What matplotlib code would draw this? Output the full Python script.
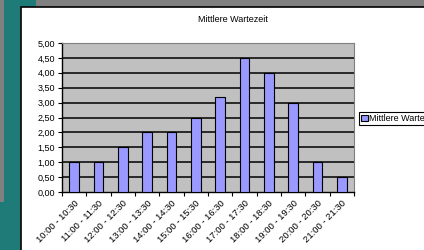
import matplotlib
matplotlib.use("Agg")
import matplotlib.pyplot as plt
import numpy as np
from matplotlib.patches import Rectangle

plt.rcParams["font.family"] = ["Liberation Sans", "DejaVu Sans"]

TITLE = "Mittlere Wartezeit"
time_slots = ["10:00 - 10:30", "11:00 - 11:30", "12:00 - 12:30", "13:00 - 13:30",
              "14:00 - 14:30", "15:00 - 15:30", "16:00 - 16:30", "17:00 - 17:30",
              "18:00 - 18:30", "19:00 - 19:30", "20:00 - 20:30", "21:00 - 21:30"]
wait_times = [1.0, 1.0, 1.5, 2.0, 2.0, 2.5, 3.2, 4.5, 4.0, 3.0, 1.0, 0.5]
y_ticks = [0, 0.5, 1, 1.5, 2, 2.5, 3, 3.5, 4, 4.5, 5]

W, H = 424, 250
fig = plt.figure(figsize=(W / 100, H / 100), dpi=100, facecolor="#808080")

# slide background drawn in pixel coordinates
bg = fig.add_axes([0, 0, 1, 1])
bg.set_xlim(0, W)
bg.set_ylim(H, 0)
bg.axis("off")
teal = "#1e7b78"
bg.add_patch(Rectangle((4, 0), 32, 7, color=teal, lw=0))
bg.add_patch(Rectangle((4, 0), 16, 202, color=teal, lw=0))
bg.add_patch(Rectangle((0, 202), 20, 48, color=teal, lw=0))
bg.add_patch(Rectangle((20.5, 6.5), 420, 260, facecolor="white", edgecolor="black", lw=1.2))

# chart
left, right, top, bottom = 62, 354, 43, 192
ax = fig.add_axes([left / W, 1 - bottom / H, (right - left) / W, (bottom - top) / H])
ax.set_facecolor("#c0c0c0")

x = np.arange(len(time_slots))
ax.bar(x, wait_times, width=0.41, color="#9999ff", edgecolor="black", lw=0.8,
       label=TITLE, zorder=3)

ax.set_xlim(-0.5, len(time_slots) - 0.5)
ax.set_ylim(0, 5)
ax.set_yticks(y_ticks)
ax.set_yticklabels(["{:.2f}".format(v).replace(".", ",") for v in y_ticks], fontsize=6.5)
for v in y_ticks[1:]:
    ax.axhline(v, color="black", lw=1.1, zorder=1)

ax.set_xticks(np.arange(-0.5, len(time_slots), 1.0))
ax.set_xticklabels([])
ax.set_xticks(x, minor=True)
ax.set_xticklabels(time_slots, minor=True, rotation=45, ha="right", va="top",
                   rotation_mode="anchor", fontsize=6.8)
ax.tick_params(axis="x", which="minor", length=0, pad=5)
ax.tick_params(axis="x", which="major", length=3, width=0.8, direction="out")
ax.tick_params(axis="y", length=3, width=0.8, direction="out", pad=2)

for side in ["top", "right"]:
    ax.spines[side].set_color("#808080")
    ax.spines[side].set_linewidth(0.8)
for side in ["left", "bottom"]:
    ax.spines[side].set_color("black")
    ax.spines[side].set_linewidth(1.0)

fig.text(233 / W, 1 - 19 / H, TITLE, ha="center", va="center", fontsize=6.5)

leg = ax.legend(loc="center left", bbox_to_anchor=(359 / W, 1 - 118.5 / H),
                bbox_transform=fig.transFigure, fontsize=6.5, frameon=True,
                fancybox=False, edgecolor="black", framealpha=1,
                handlelength=0.7, handleheight=0.7, handletextpad=0.2,
                borderpad=0.25, borderaxespad=0)
leg.get_frame().set_linewidth(0.8)

fig.savefig("out.png", dpi=100, facecolor=fig.get_facecolor())
